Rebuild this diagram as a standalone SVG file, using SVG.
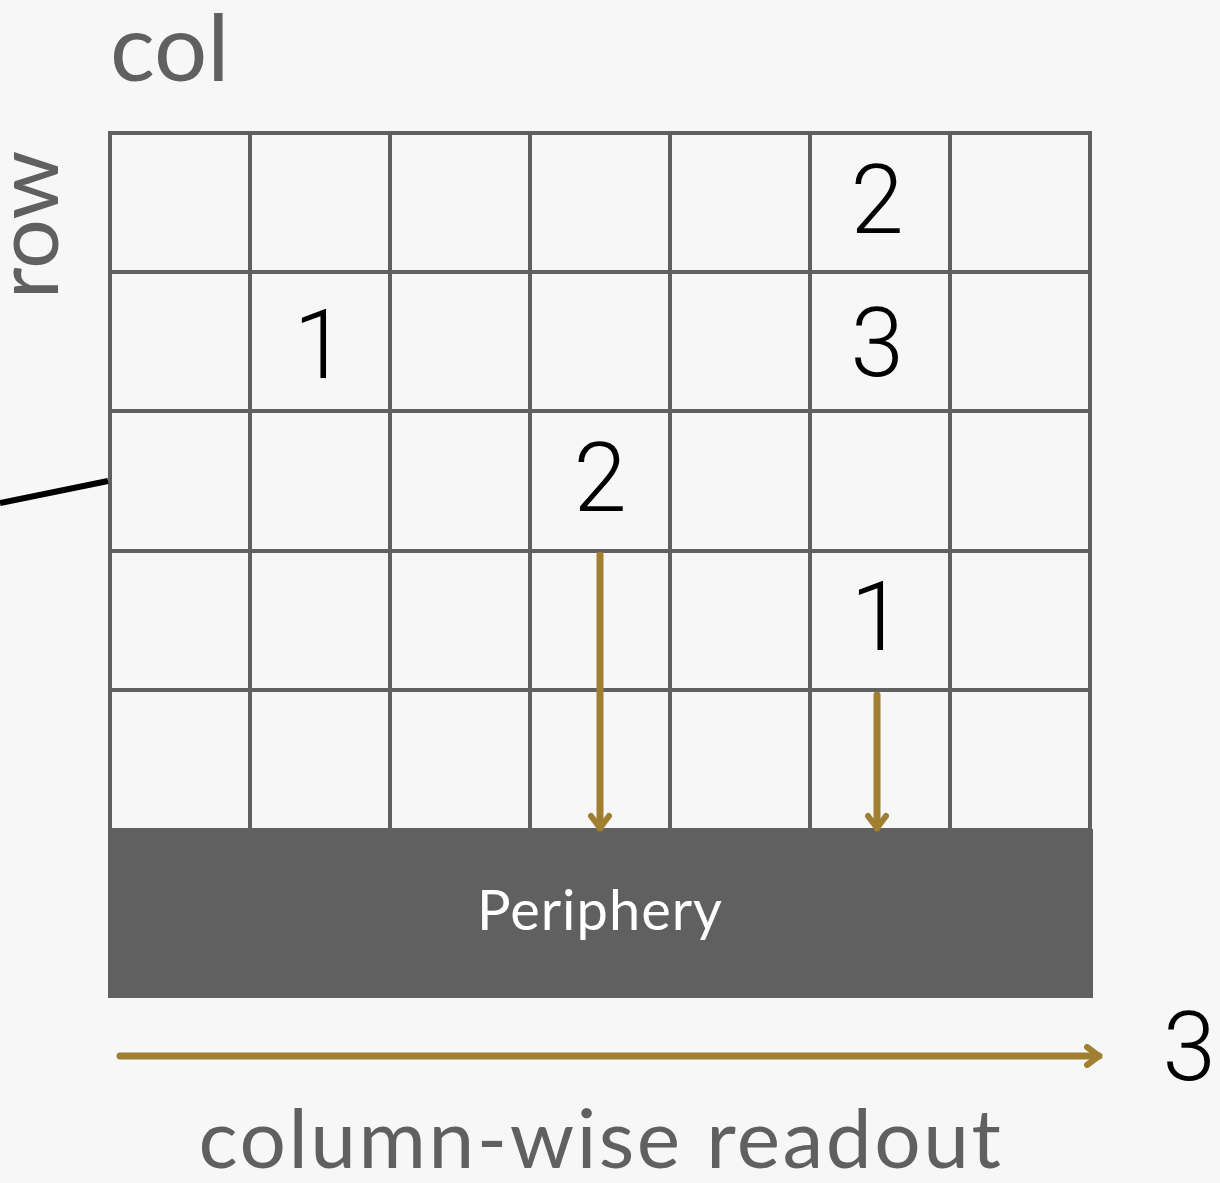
<svg xmlns="http://www.w3.org/2000/svg" width="1220" height="1183" viewBox="0 0 1220 1183">
<style>
.grid{stroke:#606060;stroke-width:4;fill:none}
.lbl{font-family:"Lato","Liberation Sans",sans-serif;font-weight:400;fill:#606060}
.num{font-family:"Roboto","Lato","Liberation Sans",sans-serif;font-weight:300;fill:#000;font-size:96px;text-anchor:middle}
.arr{stroke:#A07F30;stroke-width:7;fill:none;stroke-linecap:round}
</style>
<defs>
<marker id="ah" viewBox="0 0 24 24" refX="20" refY="12" markerWidth="24" markerHeight="24" markerUnits="userSpaceOnUse" orient="auto">
<path d="M8,3 L20,12 L8,21" fill="none" stroke="#A07F30" stroke-width="6" stroke-linecap="round" stroke-linejoin="round"/>
</marker>
</defs>
<rect width="1220" height="1183" fill="#F7F7F7"/>
<g id="grid">
<rect class="grid" x="110" y="133" width="980" height="697"/>
<path class="grid" d="M250,133V830M390,133V830M530,133V830M670,133V830M810,133V830M950,133V830M110,272H1090M110,411H1090M110,551H1090M110,690H1090"/>
</g>
<g id="labels">
<text class="lbl" x="110" y="81" font-size="94">col</text>
<text class="lbl" transform="translate(58,225) rotate(-90)" font-size="88" text-anchor="middle">row</text>
</g>
<g id="cells">
<text class="num" x="877" y="233">2</text>
<text class="num" x="320" y="378">1</text>
<text class="num" x="877" y="376">3</text>
<text class="num" x="600" y="511">2</text>
<text class="num" x="877" y="650">1</text>
</g>
<g id="periphery">
<rect x="108" y="829" width="985" height="169" fill="#606060"/>
<text x="600" y="930" font-family="Lato,'Liberation Sans',sans-serif" font-size="56" fill="#FFFFFF" text-anchor="middle" letter-spacing="1">Periphery</text>
</g>
<g id="connectors">
<line x1="0" y1="503" x2="108" y2="481" stroke="#000" stroke-width="6"/>
<line class="arr" x1="600" y1="555" x2="600" y2="828" marker-end="url(#ah)"/>
<line class="arr" x1="877" y1="695" x2="877" y2="828" marker-end="url(#ah)"/>
<line class="arr" x1="120" y1="1056" x2="1099" y2="1056" marker-end="url(#ah)"/>
</g>
<g id="readout">
<text class="num" x="1189" y="1080">3</text>
<text class="lbl" x="601" y="1168" font-size="82" text-anchor="middle" letter-spacing="2.5">column-wise readout</text>
</g>
</svg>
